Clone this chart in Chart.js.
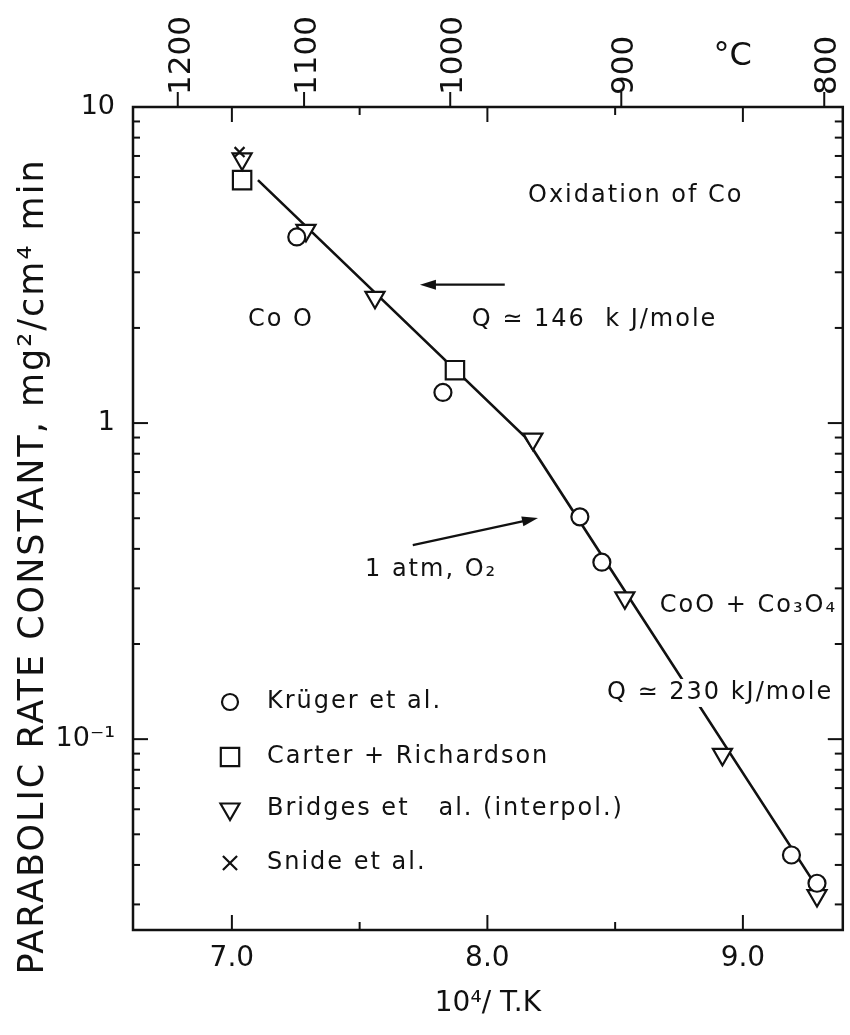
<!DOCTYPE html>
<html>
<head>
<meta charset="utf-8">
<script src="https://cdn.jsdelivr.net/npm/chart.js@4/dist/chart.umd.min.js"></script>
<style>
  html, body { margin: 0; padding: 0; background: #fff; overflow: hidden; }
  #wrap { width: 858px; height: 1035px; position: relative; }
</style>
</head>
<body>
<div id="wrap"><canvas id="rateChart"></canvas></div>
<script>
// Oxidation of Co: parabolic rate constant against 10^4/T
const seriesNames = ['Krüger et al.', 'Carter + Richardson', 'Bridges et   al. (interpol.)', 'Snide et al.'];

const krugerX = [7.254, 7.826, 8.362, 8.448, 9.19, 9.29];
const krugerY = [3.88, 1.25, 0.505, 0.363, 0.043, 0.035];

const carterX = [7.04, 7.873];
const carterY = [5.87, 1.47];

const bridgesX = [7.04, 7.29, 7.56, 8.178, 8.538, 8.92, 9.29];
const bridgesY = [6.85, 4.07, 2.5, 0.89, 0.28, 0.0895, 0.032];

const snideX = [7.03];
const snideY = [7.2];

// two-slope fit line (CoO / CoO + Co3O4)
const fitX = [7.102, 8.147, 9.27];
const fitY = [5.87, 0.904, 0.036];

const xTickValues = [7.0, 7.5, 8.0, 8.5, 9.0];
const xTickLabels = ['7.0', '', '8.0', '', '9.0'];
const yTickValues = [0.1, 1, 10];
const yTickLabels = ['10⁻¹', '1', '10'];
const celsiusTicks = [1200, 1100, 1000, 900, 800];

const ink = '#111';
const family = '"DejaVu Sans", sans-serif';

// knockout: clear the fit line behind the text
const notes = [
  { text: 'Oxidation of Co', x: 8.159, y: 5.22 },
  { text: 'Co O', x: 7.063, y: 2.12 },
  { text: 'Q ≃ 146  k J/mole', x: 7.939, y: 2.12 },
  { text: '1 atm, O₂', x: 7.521, y: 0.343 },
  { text: 'CoO + Co₃O₄', x: 8.675, y: 0.265 },
  { text: 'Q ≃ 230 kJ/mole', x: 8.468, y: 0.14, knockout: true }
];
const arrows = [
  { from: [8.068, 2.74], to: [7.736, 2.74] },
  { from: [7.708, 0.411], to: [8.198, 0.501] }
];

const pts = (xs, ys) => xs.map((x, i) => ({ x, y: ys[i] }));

const markerBase = {
  showLine: false,
  borderColor: ink,
  backgroundColor: '#fff',
  pointBorderColor: ink,
  pointBackgroundColor: '#fff',
  pointBorderWidth: 2.2
};

// keep tick labels from shrinking the plot area
const noPadding = s => {
  s.paddingLeft = 0; s.paddingRight = 0; s.paddingTop = 0; s.paddingBottom = 0;
  s.getPadding = () => ({ left: 0, top: 0, right: 0, bottom: 0 });
};

Chart.defaults.font.family = family;
Chart.defaults.color = ink;

// frame, inward ticks, °C unit, y title
const frameTicks = {
  id: 'frameTicks',
  afterDraw(chart) {
    const { ctx, chartArea: a, scales } = chart;
    const line = (x1, y1, x2, y2) => { ctx.beginPath(); ctx.moveTo(x1, y1); ctx.lineTo(x2, y2); ctx.stroke(); };
    ctx.save();
    ctx.strokeStyle = ink;
    ctx.lineWidth = 2.5;
    ctx.strokeRect(a.left, a.top, a.right - a.left, a.bottom - a.top);
    ctx.lineWidth = 2;

    xTickValues.forEach((v, i) => {
      const px = scales.x.getPixelForValue(v);
      const len = xTickLabels[i] ? 15 : 8;
      line(px, a.bottom, px, a.bottom - len);
      line(px, a.top, px, a.top + len);
    });
    scales.xTop.ticks.forEach(t => {
      const px = scales.xTop.getPixelForValue(t.value);
      line(px, a.top, px, a.top - 15);
    });
    scales.y.ticks.forEach(t => {
      const v = t.value;
      const sig = v / Math.pow(10, Math.floor(Math.log10(v) + 1e-9));
      const major = yTickValues.some(m => Math.abs(m - v) / m < 1e-6);
      if (!major && Math.abs(sig - Math.round(sig)) > 1e-6) return;
      const py = scales.y.getPixelForValue(v);
      line(a.left, py, a.left + (major ? 15 : 7), py);
      line(a.right, py, a.right - (major ? 15 : 8), py);
    });

    ctx.fillStyle = ink;
    ctx.font = '32px ' + family;
    ctx.textAlign = 'center';
    ctx.textBaseline = 'middle';
    ctx.fillText('°C', scales.x.getPixelForValue(8.96), a.top - 50);

    ctx.translate(34, (a.top + a.bottom) / 2 + 48);
    ctx.rotate(-Math.PI / 2);
    ctx.font = '35px ' + family;
    ctx.letterSpacing = '2px';
    ctx.fillText('PARABOLIC RATE CONSTANT, mg²/cm⁴ min', 0, 0);
    ctx.restore();
  }
};

// text labels, arrows and the legend inside the plot
const annotations = {
  id: 'annotations',
  afterDatasetsDraw(chart) {
    const { ctx, chartArea: a, scales } = chart;
    const sx = v => scales.x.getPixelForValue(v);
    const sy = v => scales.y.getPixelForValue(v);
    ctx.save();
    ctx.strokeStyle = ink;
    ctx.font = '24px ' + family;
    ctx.letterSpacing = '2px';
    ctx.textAlign = 'left';
    ctx.textBaseline = 'middle';
    notes.forEach(n => {
      const x = sx(n.x), y = sy(n.y);
      if (n.knockout) {
        ctx.fillStyle = '#fff';
        ctx.fillRect(x - 4, y - 14, ctx.measureText(n.text).width + 8, 28);
      }
      ctx.fillStyle = ink;
      ctx.fillText(n.text, x, y);
    });

    ctx.lineWidth = 2.2;
    arrows.forEach(ar => {
      const x1 = sx(ar.from[0]), y1 = sy(ar.from[1]);
      const x2 = sx(ar.to[0]), y2 = sy(ar.to[1]);
      const ang = Math.atan2(y2 - y1, x2 - x1);
      ctx.beginPath();
      ctx.moveTo(x1, y1);
      ctx.lineTo(x2 - 10 * Math.cos(ang), y2 - 10 * Math.sin(ang));
      ctx.stroke();
      ctx.beginPath();
      ctx.moveTo(x2, y2);
      ctx.lineTo(x2 - 16 * Math.cos(ang) + 5 * Math.sin(ang), y2 - 16 * Math.sin(ang) - 5 * Math.cos(ang));
      ctx.lineTo(x2 - 16 * Math.cos(ang) - 5 * Math.sin(ang), y2 - 16 * Math.sin(ang) + 5 * Math.cos(ang));
      ctx.closePath();
      ctx.fill();
    });

    const rows = [-228, -173, -121, -67];
    const legendRadius = { circle: 8, rect: 13, triangle: 11, crossRot: 10 };
    chart.data.datasets.forEach(ds => {
      const i = seriesNames.indexOf(ds.label);
      if (i < 0) return;
      const y = a.bottom + rows[i];
      ctx.fillStyle = '#fff';
      ctx.lineWidth = 2.2;
      Chart.helpers.drawPoint(ctx, {
        pointStyle: ds.pointStyle,
        radius: legendRadius[ds.pointStyle],
        rotation: ds.pointRotation || 0,
        borderWidth: 2.2
      }, a.left + 97, y);
      ctx.fillStyle = ink;
      ctx.fillText(ds.label, a.left + 134, y);
    });
    ctx.restore();
  }
};

new Chart(document.getElementById('rateChart'), {
  type: 'scatter',
  data: {
    datasets: [
      { ...markerBase, label: seriesNames[3], data: pts(snideX, snideY), pointStyle: 'crossRot', pointRadius: 7 },
      { ...markerBase, label: seriesNames[0], data: pts(krugerX, krugerY), pointStyle: 'circle', pointRadius: 8.5 },
      { ...markerBase, label: seriesNames[2], data: pts(bridgesX, bridgesY), pointStyle: 'triangle', pointRadius: 11, pointRotation: 180 },
      { ...markerBase, label: seriesNames[1], data: pts(carterX, carterY), pointStyle: 'rect', pointRadius: 13 },
      {
        label: 'fit',
        data: pts(fitX, fitY),
        showLine: true,
        borderColor: ink,
        borderWidth: 2.6,
        pointRadius: 0,
        fill: false,
        order: 10
      }
    ]
  },
  options: {
    responsive: true,
    maintainAspectRatio: false,
    animation: false,
    events: [],
    layout: { padding: { left: 0, right: 7, top: 0, bottom: 0 } },
    plugins: {
      legend: { display: false },
      tooltip: { enabled: false }
    },
    scales: {
      x: {
        type: 'linear',
        position: 'bottom',
        min: 6.613,
        max: 9.391,
        grid: { display: false },
        border: { display: false },
        afterBuildTicks: s => { s.ticks = xTickValues.map(v => ({ value: v })); },
        afterFit: s => { s.height = 105; noPadding(s); },
        ticks: {
          autoSkip: false,
          maxRotation: 0,
          padding: 4,
          font: { size: 28 },
          callback: (v, i) => xTickLabels[i]
        },
        title: {
          display: true,
          text: '10⁴/ T.K',
          font: { size: 28 },
          padding: { top: 0, bottom: 14 }
        }
      },
      xTop: {
        type: 'linear',
        position: 'top',
        min: 6.613,
        max: 9.391,
        grid: { display: false },
        border: { display: false },
        afterBuildTicks: s => { s.ticks = celsiusTicks.map(c => ({ value: 1e4 / (c + 273.15) })); },
        afterFit: s => { s.height = 107; noPadding(s); },
        ticks: {
          autoSkip: false,
          minRotation: 90,
          maxRotation: 90,
          padding: 4,
          labelOffset: 41,
          font: { size: 31 },
          callback: (v, i) => String(celsiusTicks[i])
        }
      },
      y: {
        type: 'logarithmic',
        position: 'left',
        min: 0.0249,
        max: 10,
        grid: { display: false },
        border: { display: false },
        afterFit: s => { s.width = 133; noPadding(s); },
        ticks: {
          autoSkip: false,
          padding: 10,
          font: { size: 27 },
          callback: v => {
            const i = yTickValues.findIndex(m => Math.abs(m - v) / m < 1e-6);
            return i >= 0 ? yTickLabels[i] : '';
          }
        }
      }
    }
  },
  plugins: [frameTicks, annotations]
});
</script>
</body>
</html>
